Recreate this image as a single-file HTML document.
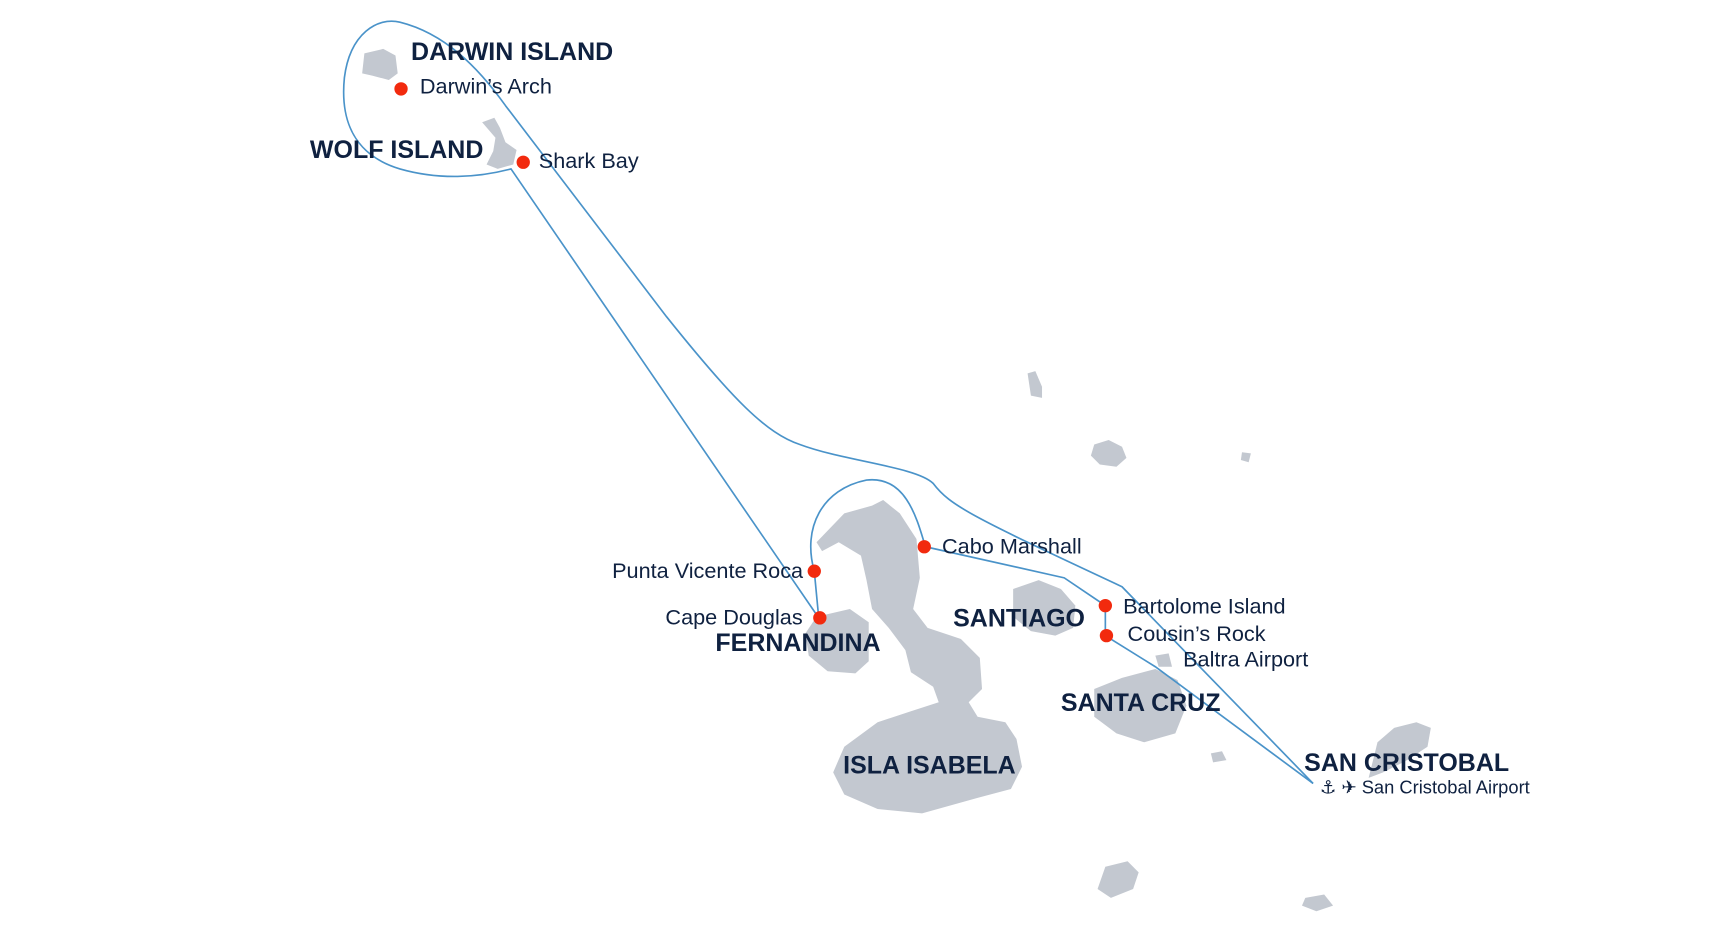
<!DOCTYPE html>
<html><head><meta charset="utf-8"><style>
html,body{margin:0;padding:0;background:#fff;}
svg{display:block}
.t{font-family:"Liberation Sans","DejaVu Sans",sans-serif;fill:#0f2140}
.b{font-weight:bold;font-size:22.5px}
.l{font-size:19.5px}
</style></head><body>
<svg width="1733" height="929" viewBox="0 0 1560 836" preserveAspectRatio="none" xmlns="http://www.w3.org/2000/svg">
<g fill="#c3c8d0">
<path d="M328,48 L345,44 L356,50 L358,66 L350,72 L335,68 L326,66 Z"/>
<path d="M434,110 L445,106 L450,115 L455,128 L465,135 L462,148 L448,152 L438,148 L444,136 L446,124 Z"/>
<path d="M925,336 L932,334 L938,348 L938,358 L928,356 Z"/>
<path d="M985,400 L998,396 L1010,402 L1014,412 L1005,420 L990,418 L982,410 Z"/>
<path d="M1118,407 L1126,408 L1124,416 L1117,414 Z"/>
<path d="M735,488 L760,462 L785,455 L795,450 L810,462 L825,485 L828,520 L822,548 L835,565 L865,575 L882,592 L884,620 L872,632 L880,645 L905,650 L915,665 L920,690 L910,710 L880,718 L830,732 L790,728 L760,715 L750,695 L760,672 L790,650 L820,640 L845,632 L840,618 L820,605 L815,585 L800,565 L785,548 L780,522 L775,500 L755,488 L740,496 Z"/>
<path d="M735,555 L765,548 L782,560 L782,595 L770,606 L745,604 L728,590 L725,570 Z"/>
<path d="M912,530 L935,522 L955,530 L968,545 L966,565 L950,572 L928,568 L912,555 Z"/>
<path d="M985,620 L1010,610 L1040,602 L1060,612 L1068,635 L1058,660 L1030,668 L1005,660 L985,645 Z"/>
<path d="M1040,590 L1052,588 L1055,600 L1043,600 Z"/>
<path d="M1090,678 L1100,676 L1104,684 L1092,686 Z"/>
<path d="M1240,668 L1255,655 L1275,650 L1288,655 L1285,672 L1265,685 L1245,695 L1232,700 Z"/>
<path d="M995,780 L1015,775 L1025,785 L1020,800 L1000,808 L988,800 Z"/>
<path d="M1175,808 L1192,805 L1200,815 L1185,820 L1172,815 Z"/>
</g>
<g fill="none" stroke="#4a93c9" stroke-width="1.5">
<path d="M737,556 L460,152 C430,160 395,162 360,152 C320,140 306,110 310,70 C315,30 340,15 360,20 C400,30 430,60 455,95 L600,285 C660,360 690,390 720,400 C760,415 825,420 840,435 C855,455 875,465 1010,528 L1182,705"/>
<path d="M737,556 L733,514 C722,475 740,440 780,432 C815,428 825,465 833,492 L958,520 L995,545 L995,572 L1040,600 L1182,705"/>
</g>
<g fill="#f22a0e">
<circle cx="361" cy="80" r="6"/><circle cx="471" cy="146" r="6"/>
<circle cx="832" cy="492" r="6"/><circle cx="733" cy="514" r="6"/>
<circle cx="738" cy="556" r="6"/><circle cx="995" cy="545" r="6"/>
<circle cx="996" cy="572" r="6"/>
</g>
<text class="t b" x="370" y="54">DARWIN ISLAND</text>
<text class="t l" x="378" y="84">Darwin’s Arch</text>
<text class="t b" x="279" y="142">WOLF ISLAND</text>
<text class="t l" x="485" y="151">Shark Bay</text>
<text class="t l" x="848" y="498">Cabo Marshall</text>
<text class="t l" x="551" y="520">Punta Vicente Roca</text>
<text class="t l" x="599" y="562">Cape Douglas</text>
<text class="t b" x="644" y="586">FERNANDINA</text>
<text class="t b" x="858" y="564">SANTIAGO</text>
<text class="t l" x="1011" y="552">Bartolome Island</text>
<text class="t l" x="1015" y="577">Cousin’s Rock</text>
<text class="t l" x="1065" y="600">Baltra Airport</text>
<text class="t b" x="955" y="640">SANTA CRUZ</text>
<text class="t b" x="759" y="696">ISLA ISABELA</text>
<text class="t b" x="1174" y="694">SAN CRISTOBAL</text>
<text class="t" style="font-size:16.5px" x="1188" y="714" fill="#0f2140">⚓︎ ✈︎ San Cristobal Airport</text>
</svg>
</body></html>
